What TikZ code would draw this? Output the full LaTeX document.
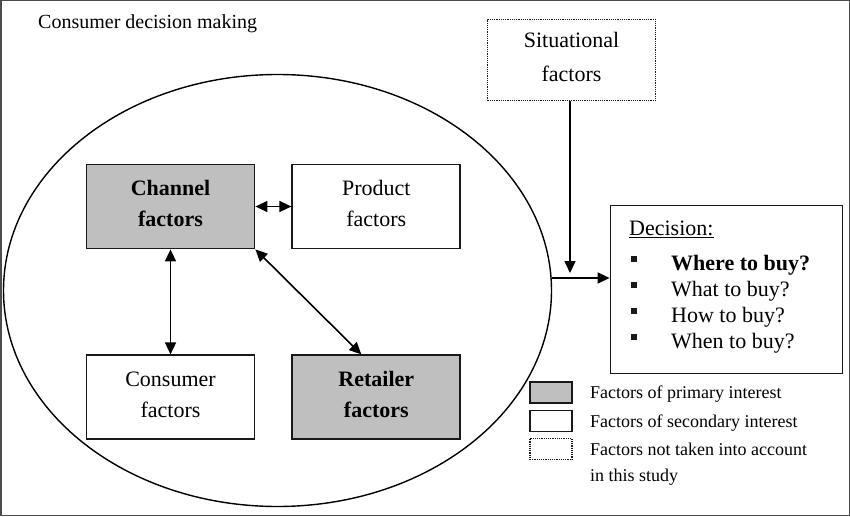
\documentclass[tikz,border=0pt]{standalone}
\usepackage{fontspec}
\setmainfont{Liberation Serif}
\usetikzlibrary{positioning, shapes.geometric, arrows.meta}

\tikzset{
  factor/.style={draw=black!90, line width=1.8pt, minimum width=168pt, minimum height=84pt,
    inner sep=0pt, align=center, font=\fontsize{22}{31}\selectfont,
    execute at end node={\rule[-6pt]{0pt}{6pt}}},
  primary/.style={factor, fill=black!25, font=\bfseries\fontsize{22}{31}\selectfont},
  ignored/.style={factor, line width=1.3pt, dash pattern=on 1.2pt off 1pt},
  link/.style={{Triangle[length=12pt,width=11pt]}-{Triangle[length=12pt,width=11pt]}, line width=1.6pt},
  flow/.style={-{Triangle[length=12pt,width=11pt]}, line width=1.6pt},
  keytext/.style={anchor=base west, inner sep=0pt, font=\fontsize{18}{24}\selectfont},
}

\begin{document}
\begin{tikzpicture}[x=1pt, y=-1pt]
    \useasboundingbox (0,0) rectangle (850,516);
    % frame and title
    \draw[black!70, line width=1.5pt] (0.75,0.75) rectangle (849.25,515.25);
    \node[anchor=base west, inner sep=0pt, font=\fontsize{20}{24}\selectfont] (title) at (38,29) {Consumer decision making};

    % decision making area and its factors
    \node[draw, ellipse, line width=1.4pt, minimum width=548pt, minimum height=432pt, inner sep=0pt] (cdm) at (277.5,290.5) {};
    \node[primary] (channel) at (170.5,206.5) {Channel\\factors};
    \node[factor, right=36pt of channel] (product) {Product\\factors};
    \node[factor, below=105pt of channel] (consumer) {Consumer\\factors};
    \node[primary, right=36pt of consumer] (retailer) {Retailer\\factors};

    \draw[link] (channel) -- (product);
    \draw[link] (channel) -- (consumer);
    \draw[link] (channel.south east) -- ([xshift=-15pt]retailer.north);

    % situation and decision
    \node[ignored, minimum width=168pt, minimum height=81pt, font=\fontsize{22}{34}\selectfont] (situational) at (571.5,60) {Situational\\factors};
    \node[draw=black!90, line width=1.8pt, minimum width=232pt, minimum height=168pt] (decision) at (726.5,289.5) {};
    \coordinate (merge) at (570,273);
    \draw[flow] (situational.south -| merge) -- (merge);
    \draw[flow] ([yshift=12.5pt]cdm.east) -- ([yshift=11.5pt]decision.west);

    \node[anchor=base west, inner sep=0pt, font=\fontsize{22}{26}\selectfont] (dechead) at (629,235) {\underline{Decision:}};
    \foreach \y/\q [count=\i] in {270/\textbf{Where to buy?}, 296/What to buy?, 322/How to buy?, 348/When to buy?} {
      \node[fill=black!90, minimum size=6pt, inner sep=0pt] (bullet\i) at (634,\y-11) {};
      \node[anchor=base west, inner sep=0pt, font=\fontsize{22}{26}\selectfont] (item\i) at (671,\y) {\q};
    }

    % legend
    \foreach \y/\sty/\txt [count=\i] in {392.5/primary/Factors of primary interest, 421/factor/Factors of secondary interest, 449/ignored/Factors not taken into account} {
      \node[\sty, minimum width=42pt, minimum height=21pt] (key\i) at (551,\y) {};
      \node[keytext] (keytext\i) at (590,\y+6) {\txt};
    }
    \node[keytext] (keytext4) at (590,481.7) {in this study};
\end{tikzpicture}
\end{document}
